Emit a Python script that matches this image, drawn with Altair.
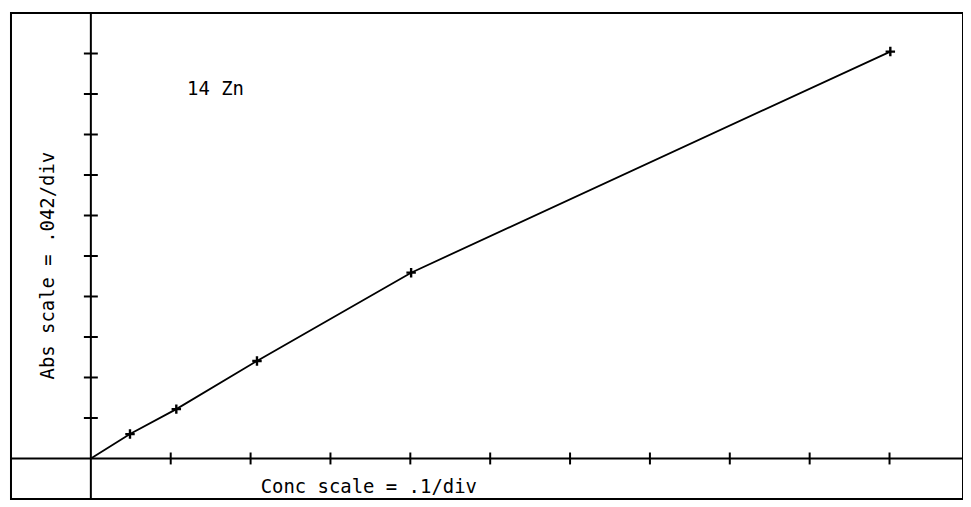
import altair as alt
import pandas as pd

# Calibration points (concentration, absorbance)
conc = [0.0, 0.049, 0.107, 0.208, 0.401, 1.001]
absorb = [0.0, 0.0253, 0.0512, 0.1011, 0.1927, 0.422]
marker_conc = [0.049, 0.107, 0.208, 0.401, 1.001]
marker_abs = [0.0253, 0.0512, 0.1011, 0.1927, 0.422]

# Axis divisions
x_ticks = [0.1, 0.2, 0.3, 0.4, 0.5, 0.6, 0.7, 0.8, 0.9, 1.0]
y_ticks = [0.042, 0.084, 0.126, 0.168, 0.210, 0.252, 0.294, 0.336, 0.378, 0.420]

# Labels
labels_text = ["14  Zn", "Conc scale = .1/div", "Abs scale = .042/div"]
labels_x = [0.156, 0.348, -0.0536]
labels_y = [0.3828, -0.0294, 0.200]
labels_angle = [0, 0, 270]

X_DOMAIN = [-0.1, 1.092]
Y_DOMAIN = [-0.042, 0.462]

line_df = pd.DataFrame({"conc": conc, "abs": absorb})
mark_df = pd.DataFrame({"conc": marker_conc, "abs": marker_abs})
xt_df = pd.DataFrame({"v": x_ticks, "z": [0.0] * len(x_ticks)})
yt_df = pd.DataFrame({"v": y_ticks, "z": [0.0] * len(y_ticks)})
lab_df = pd.DataFrame({"text": labels_text, "x": labels_x, "y": labels_y, "angle": labels_angle})

xs = alt.Scale(domain=X_DOMAIN, nice=False, zero=False)
ys = alt.Scale(domain=Y_DOMAIN, nice=False, zero=False)

# zero lines (axes inside the frame)
x_axis_line = alt.Chart(pd.DataFrame({"z": [0.0]})).mark_rule(color="black", strokeWidth=2).encode(
    y=alt.Y("z:Q", scale=ys, axis=None)
)
y_axis_line = alt.Chart(pd.DataFrame({"z": [0.0]})).mark_rule(color="black", strokeWidth=2).encode(
    x=alt.X("z:Q", scale=xs, axis=None)
)

x_tick_marks = alt.Chart(xt_df).mark_tick(color="black", orient="vertical", size=12, thickness=2, opacity=1).encode(
    x=alt.X("v:Q", scale=xs, axis=None),
    y=alt.Y("z:Q", scale=ys, axis=None),
)
y_tick_marks = alt.Chart(yt_df).mark_tick(color="black", orient="horizontal", size=14, thickness=2, opacity=1).encode(
    x=alt.X("z:Q", scale=xs, axis=None),
    y=alt.Y("v:Q", scale=ys, axis=None),
)

curve = alt.Chart(line_df).mark_line(
    color="black", strokeWidth=1.8, interpolate="linear"
).encode(
    x=alt.X("conc:Q", scale=xs, axis=None),
    y=alt.Y("abs:Q", scale=ys, axis=None),
)

markers = alt.Chart(mark_df).mark_point(
    shape="M-1,0L1,0M0,-1L0,1", filled=False, color="black", strokeWidth=2.4, size=90, opacity=1
).encode(
    x=alt.X("conc:Q", scale=xs, axis=None),
    y=alt.Y("abs:Q", scale=ys, axis=None),
)

labels = alt.Chart(lab_df).mark_text(
    font="DejaVu Sans Mono", fontSize=19, color="black", align="center", baseline="middle"
).encode(
    x=alt.X("x:Q", scale=xs, axis=None),
    y=alt.Y("y:Q", scale=ys, axis=None),
    text="text:N",
    angle=alt.Angle("angle:Q", scale=None),
)

chart = alt.layer(
    x_axis_line, y_axis_line, x_tick_marks, y_tick_marks, curve, markers, labels
).properties(
    width=956,
    height=488,
    autosize=alt.AutoSizeParams(type="none"),
    padding={"left": 3, "top": 4, "right": 0, "bottom": 0},
    background="white",
).configure_view(
    stroke="black", strokeWidth=2
)

chart.save("out.html", embed_options={"renderer": "svg", "actions": False})
